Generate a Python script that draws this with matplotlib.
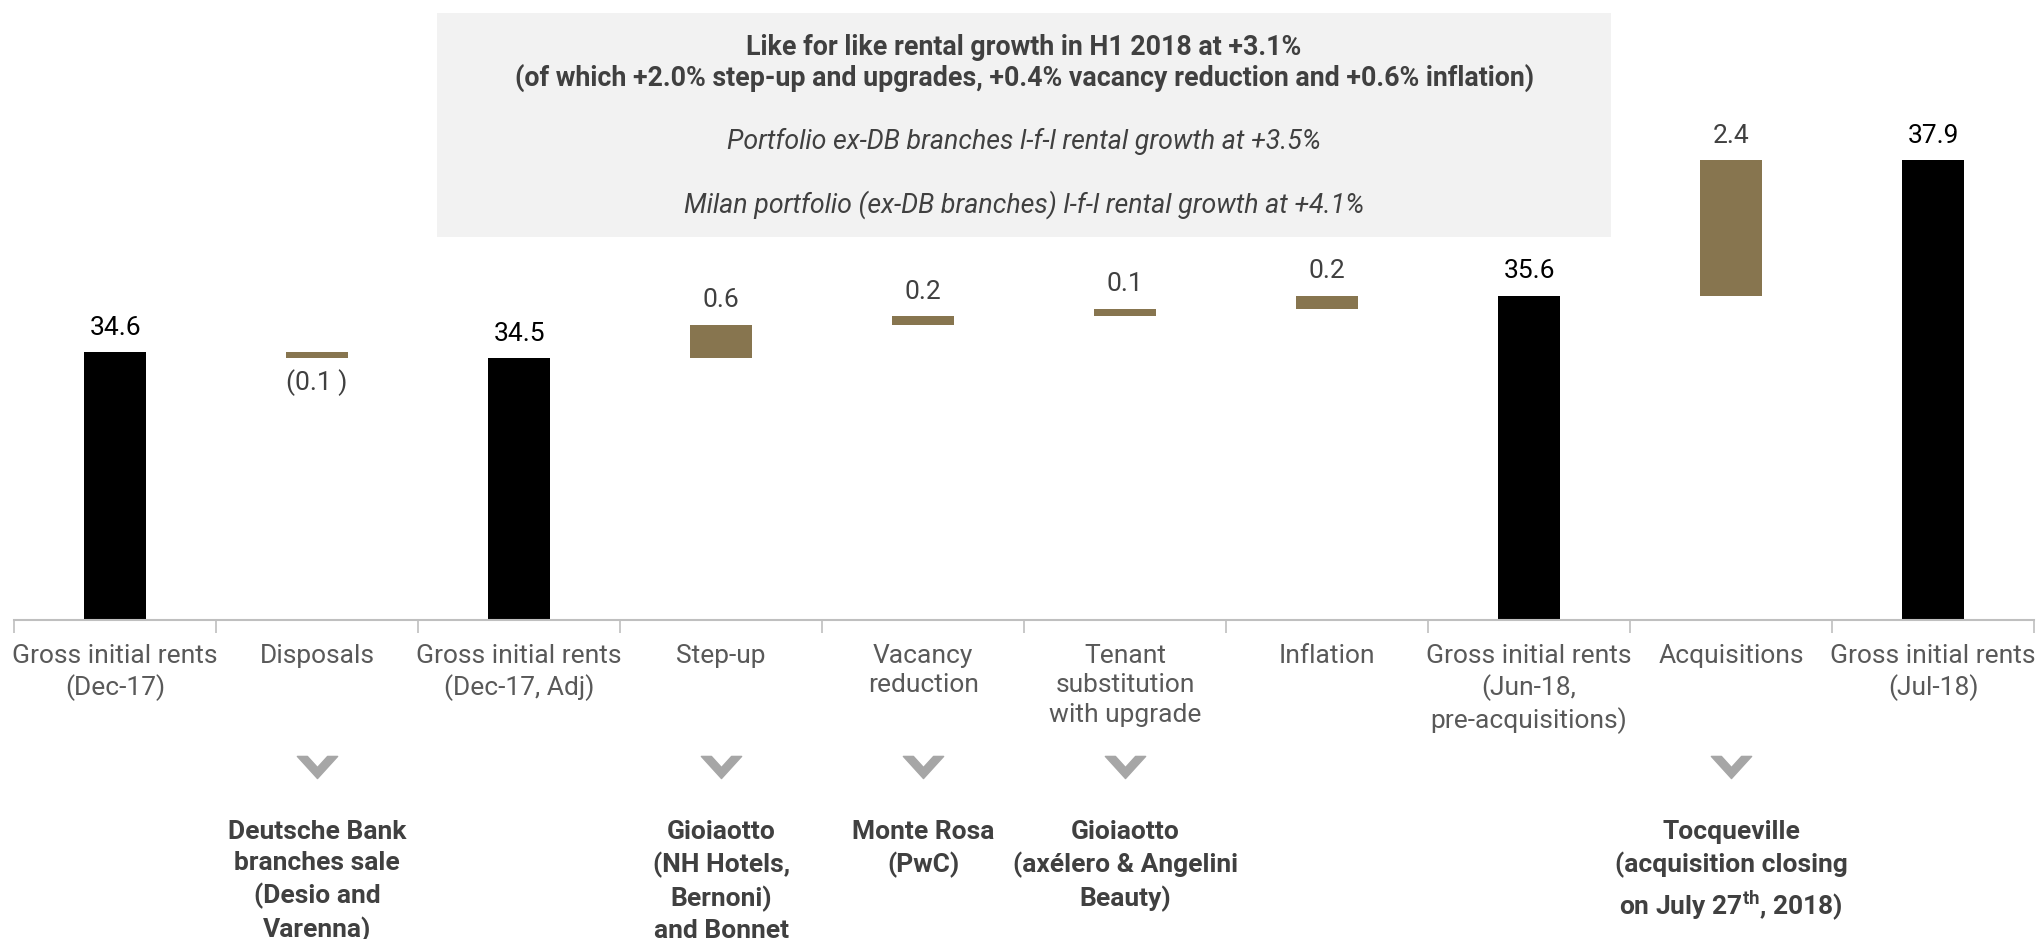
import matplotlib.pyplot as plt
import numpy as np
from matplotlib.path import Path
from matplotlib.patches import Rectangle
from matplotlib.transforms import blended_transform_factory

plt.rcParams['font.family'] = ['Roboto', 'DejaVu Sans']
plt.rcParams['mathtext.fontset'] = 'custom'
plt.rcParams['mathtext.rm'] = 'Roboto'
plt.rcParams['mathtext.bf'] = 'Roboto:bold'

# waterfall data (EUR m)
categories = ["Gross initial rents\n(Dec-17)", "Disposals", "Gross initial rents\n(Dec-17, Adj)",
              "Step-up", "Vacancy\nreduction", "Tenant\nsubstitution\nwith upgrade", "Inflation",
              "Gross initial rents\n(Jun-18,\npre-acquisitions)", "Acquisitions",
              "Gross initial rents\n(Jul-18)"]
start_value = 34.6
deltas = {1: -0.1, 3: 0.57, 4: 0.15, 5: 0.13, 6: 0.22, 8: 2.33}
total_idx = [0, 2, 7, 9]
value_labels = ["34.6", "(0.1 )", "34.5", "0.6", "0.2", "0.1", "0.2", "35.6", "2.4", "37.9"]

notes = {1: "Deutsche Bank\nbranches sale\n(Desio and\nVarenna)",
         3: "Gioiaotto\n(NH Hotels,\nBernoni)\nand Bonnet",
         4: "Monte Rosa\n(PwC)",
         5: "Gioiaotto\n(axélero & Angelini\nBeauty)",
         8: "Tocqueville\n(acquisition closing\non July 27$^{\\mathbf{th}}$, 2018)"}

box_lines = ["Like for like rental growth in H1 2018 at +3.1%\n"
             "(of which +2.0% step-up and upgrades, +0.4% vacancy reduction and +0.6% inflation)",
             "Portfolio ex-DB branches l-f-l rental growth at +3.5%",
             "Milan portfolio (ex-DB branches) l-f-l rental growth at +4.1%"]

gold = "#87754f"
dark = "#404040"
y0 = 30.0

fig = plt.figure(figsize=(20.38, 9.39), dpi=100)
ax = fig.add_axes([0.0069, 0.3397, 0.9912, 0.6603])

level = start_value
bottoms, heights, colors = [], [], []
for i in range(len(categories)):
    if i in total_idx:
        bottoms.append(y0)
        heights.append(level - y0)
        colors.append("black")
    else:
        d = deltas[i]
        bottoms.append(min(level, level + d))
        heights.append(abs(d))
        colors.append(gold)
        level += d

x = np.arange(len(categories))
ax.bar(x, heights, bottom=bottoms, width=0.31, color=colors)

for i in x:
    top = bottoms[i] + heights[i]
    col = "black" if i in total_idx else dark
    if i in deltas and deltas[i] < 0:
        ax.annotate(value_labels[i], (i, bottoms[i]), xytext=(0, -8), textcoords="offset points",
                    ha="center", va="top", fontsize=19, color=col)
    else:
        ax.annotate(value_labels[i], (i, top), xytext=(0, 9), textcoords="offset points",
                    ha="center", va="bottom", fontsize=19, color=col)

ax.set_xlim(-0.5, len(categories) - 0.5)
ax.set_ylim(y0, 40.65)
ax.set_yticks([])
for s in ["top", "right", "left"]:
    ax.spines[s].set_visible(False)
ax.spines["bottom"].set_color("#bfbfbf")
ax.spines["bottom"].set_linewidth(1.5)
ax.set_xticks(x)
ax.set_xticklabels(categories, fontsize=19, color="#595959", linespacing=1.3)
ax.tick_params(axis="x", which="major", length=0, pad=17)
ax.set_xticks(np.arange(-0.5, len(categories)), minor=True)
ax.tick_params(axis="x", which="minor", length=9, width=1.2, color="#bfbfbf")

# chevrons and notes
chev = Path([(-1, 0.55), (-0.5, 0.55), (0, 0.0), (0.5, 0.55), (1, 0.55), (0, -0.55), (-1, 0.55)],
            [Path.MOVETO] + [Path.LINETO] * 5 + [Path.CLOSEPOLY])
trans = blended_transform_factory(ax.transData, fig.transFigure)
note_idx = list(notes.keys())
ax.plot(note_idx, [0.183] * len(note_idx), linestyle="none", marker=chev, markersize=29,
        color="#a6a6a6", transform=trans, clip_on=False)
for i, txt in notes.items():
    ax.text(i, 0.127, txt, transform=trans, ha="center", va="top", fontsize=19,
            fontweight="bold", color=dark, linespacing=1.38)

# grey commentary box
fig.patches.append(Rectangle((0.2144, 0.748), 0.5761, 0.238, transform=fig.transFigure,
                             facecolor="#f2f2f2", edgecolor="none", zorder=0))
fig.text(0.5025, 0.933, box_lines[0], ha="center", va="center", fontsize=19.3,
         fontweight="bold", color=dark, linespacing=1.1)
fig.text(0.5025, 0.849, box_lines[1], ha="center", va="center", fontsize=19.3,
         style="italic", color=dark)
fig.text(0.5025, 0.782, box_lines[2], ha="center", va="center", fontsize=19.3,
         style="italic", color=dark)

fig.savefig("out.png", dpi=100)
